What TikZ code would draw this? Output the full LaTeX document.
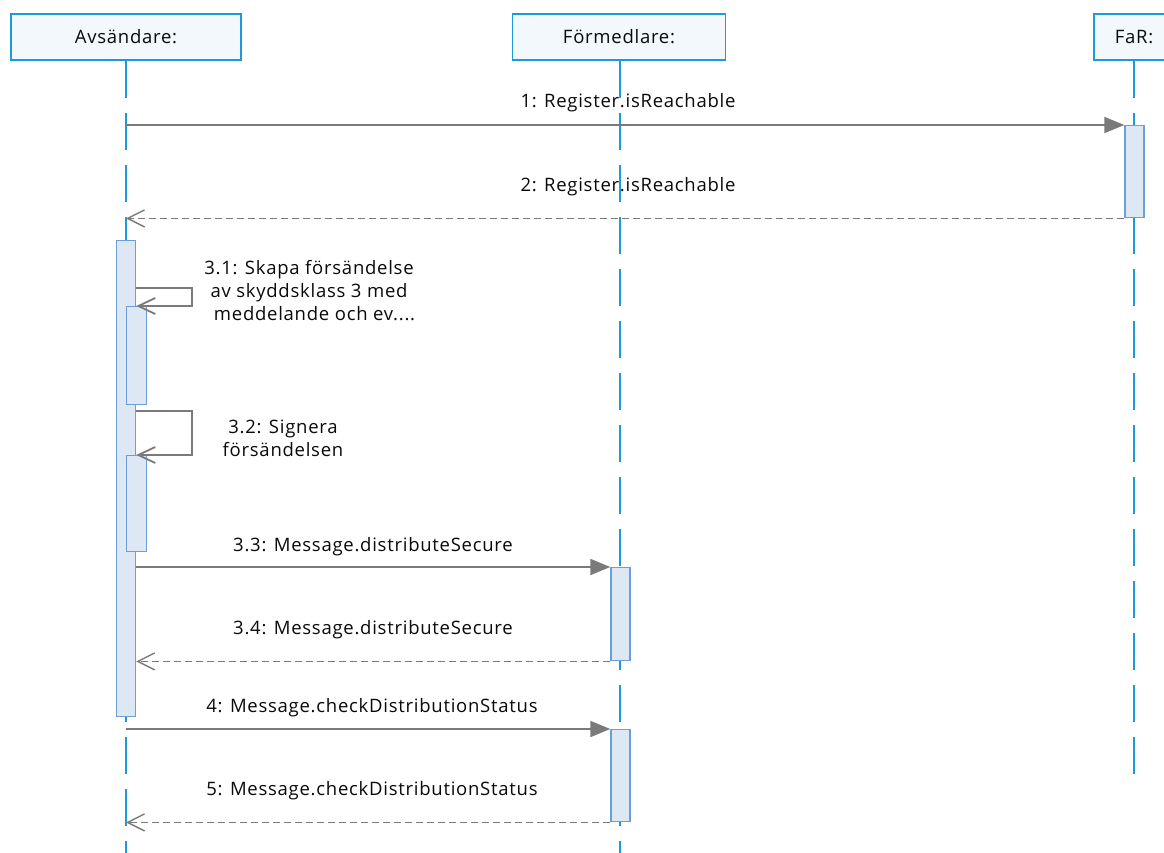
\documentclass[tikz,border=0pt]{standalone}
\usepackage{fontspec}
\setmainfont{Open Sans}[LetterSpace=4]
\usetikzlibrary{arrows.meta}
\definecolor{lifeblue}{HTML}{1E9AD6}
\definecolor{headfill}{HTML}{F3F8FD}
\definecolor{actfill}{HTML}{DEE8F4}
\definecolor{actedge}{HTML}{6A9FDB}
\definecolor{msggray}{HTML}{7A7A7A}
\definecolor{txt}{HTML}{0A0A0A}
\begin{document}
\begin{tikzpicture}[x=1pt,y=-1pt,
  every node/.style={text=txt, font=\fontsize{18.5}{23}\selectfont},
  head/.style={draw=lifeblue, line width=1.6pt, fill=headfill, minimum height=46pt, inner sep=0pt},
  lifeline/.style={draw=lifeblue, line width=1.6pt, dash pattern=on 37pt off 15pt},
  act/.style={draw=actedge, line width=1.4pt, fill=actfill, minimum width=19pt, inner sep=0pt, anchor=north},
  call/.style={draw=msggray, line width=1.8pt, -{Triangle[length=20pt,width=16pt]}},
  reply/.style={draw=msggray, line width=1.4pt, dash pattern=on 7pt off 4pt, -{Straight Barb[length=17pt,width=17pt]}},
  self/.style={draw=msggray, line width=1.8pt, -{Straight Barb[length=17pt,width=16pt]}},
  lbl/.style={align=center, inner sep=0pt}]
\useasboundingbox (0,0) rectangle (1164,853);
\clip (0,0) rectangle (1164,853);
\fill[white] (0,0) rectangle (1164,853);

% participants
\node[head, minimum width=230pt] (avs) at (126,37) {Avsändare:};
\node[head, minimum width=213pt] (form) at (619,37) {Förmedlare:};
\node[head, minimum width=80pt] (far) at (1134,37) {FaR:};

% lifeline ends
\coordinate (avsEnd) at (126,853);
\coordinate (formEnd) at (620,853);
\coordinate (farEnd) at (1134,781);
\draw[lifeline] (avs.south) -- (avsEnd);
\draw[lifeline] (form.south -| formEnd) -- (formEnd);
\draw[lifeline] (far.south) -- (farEnd);

% activation bars
\node[act, minimum height=92pt] (farA) at (1134.5,125) {};
\node[act, minimum height=476pt] (avsA) at (126,240) {};
\node[act, minimum width=20pt, minimum height=98pt] (avsB) at (136.5,306) {};
\node[act, minimum width=20pt, minimum height=96pt] (avsC) at (136.5,455) {};
\node[act, minimum height=93pt] (formA) at (620.5,567) {};
\node[act, minimum height=92pt] (formB) at (620.5,729) {};

% loop corners of the self calls
\coordinate (l1) at (192,288);
\coordinate (l2) at (192,411);

% messages
\draw[call] (farA.north west -| avsEnd) -- (farA.north west);
\node[lbl] (t1) at (628,103) {1: Register.isReachable};

\draw[reply] (farA.south west) -- (farA.south west -| avsEnd);
\node[lbl] (t2) at (628,187) {2: Register.isReachable};

\draw[self] (avsA.east |- l1) -- (l1) |- (avsB.north west -| avsA.east);
\node[lbl] (t31) at (309,291) {3.1: Skapa försändelse\\av skyddsklass 3 med\\\ \ meddelande och ev....};

\draw[self] (avsA.east |- l2) -- (l2) |- (avsC.north west -| avsA.east);
\node[lbl] (t32) at (283,438) {3.2: Signera\\försändelsen};

\draw[call] (avsA.east |- formA.north) -- (formA.north west);
\node[lbl] (t33) at (373,547) {3.3: Message.distributeSecure};

\draw[reply] (formA.south west) -- (formA.south west -| avsA.east);
\node[lbl] (t34) at (373,630) {3.4: Message.distributeSecure};

\draw[call] (formB.north west -| avsEnd) -- (formB.north west);
\node[lbl] (t4) at (372,708) {4: Message.checkDistributionStatus};

\draw[reply] (formB.south west) -- (formB.south west -| avsEnd);
\node[lbl] (t5) at (372,791) {5: Message.checkDistributionStatus};
\end{tikzpicture}
\end{document}
